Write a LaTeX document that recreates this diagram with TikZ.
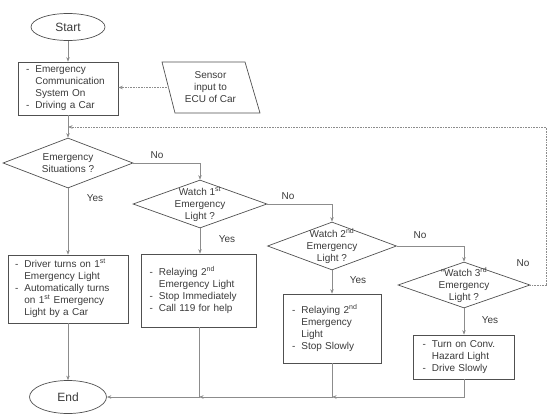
\documentclass[tikz,border=0pt]{standalone}
\usepackage{fontspec}
\setmainfont{Liberation Sans}
\usetikzlibrary{shapes.geometric,arrows.meta}
\definecolor{shapec}{HTML}{505050}
\definecolor{linec}{HTML}{8C8C8C}
\definecolor{txtc}{HTML}{3A3A3A}
\newcommand{\blist}[1]{\begin{tabular}{@{}l@{\hspace{6pt}}l@{}}#1\end{tabular}}
\begin{document}
\begin{tikzpicture}[x=1pt,y=-1pt,
  every node/.style={text=txtc, font=\fontsize{10}{12}\selectfont},
  shp/.style={draw=shapec, line width=0.7pt},
  term/.style={shp, ellipse, inner sep=0pt, font=\fontsize{12}{14}\selectfont},
  box/.style={shp, rectangle, inner ysep=0pt, align=left},
  dia/.style={shp, diamond, inner sep=0pt},
  dtext/.style={align=center, inner sep=0pt},
  lbl/.style={inner sep=0pt},
  conn/.style={draw=linec, line width=0.6pt, -{Stealth[length=4.5pt,width=3.5pt]}},
]
\useasboundingbox (0,0) rectangle (551,415);

% terminals
\node[term, minimum width=74pt, minimum height=27pt] (start) at (68,27) {Start};
\node[term, minimum width=77pt, minimum height=33pt] (end) at (68,397) {End};

% first box
\node[box, minimum width=100pt, text width=84pt, inner xsep=8pt, minimum height=53pt] (box1) at (68,88.5)
  {\blist{-&Emergency\\&Communication\\&System On\\-&Driving a Car}};

% sensor parallelogram
\draw[shp] (162,62) -- (245,62) -- (260,113) -- (175,113) -- cycle;
\node[align=center, inner sep=0pt] (sensor) at (210.5,87.5) {Sensor\\input to\\ECU of Car};
\coordinate (sensorL) at (168.5,87.5);

% diamonds
\node[dia, minimum width=130pt, minimum height=50pt] (d1) at (68,163) {};
\node[dtext] at (d1) {Emergency\\Situations ?};
\node[dia, minimum width=134pt, minimum height=48pt] (d2) at (200,204) {};
\node[dtext] at (d2) {Watch 1\textsuperscript{st}\\Emergency\\Light ?};
\node[dia, minimum width=129pt, minimum height=48pt] (d3) at (332,246) {};
\node[dtext] at (d3) {Watch 2\textsuperscript{nd}\\Emergency\\Light ?};
\node[dia, minimum width=132pt, minimum height=46pt] (d4) at (464,285) {};
\node[dtext] at (d4) {“Watch 3\textsuperscript{rd}\\Emergency\\Light ?};

% action boxes
\node[box, minimum width=120pt, text width=106pt, inner xsep=7pt, minimum height=68pt] (boxA) at (68,289)
  {\blist{-&Driver turns on 1\textsuperscript{st}\\&Emergency Light\\-&Automatically turns\\&on 1\textsuperscript{st} Emergency\\&Light by a Car}};
\node[box, minimum width=115pt, text width=99pt, inner xsep=8pt, minimum height=73pt] (boxB) at (199,290.5)
  {\blist{-&Relaying 2\textsuperscript{nd}\\&Emergency Light\\-&Stop Immediately\\-&Call 119 for help}};
\node[box, minimum width=98pt, text width=80pt, inner xsep=9pt, minimum height=69pt] (boxC) at (332,328.5)
  {\blist{-&Relaying 2\textsuperscript{nd}\\&Emergency\\&Light\\-&Stop Slowly}};
\node[box, minimum width=101pt, text width=83pt, inner xsep=9pt, minimum height=44pt] (boxD) at (464,357)
  {\blist{-&Turn on Conv.\\&Hazard Light\\-&Drive Slowly}};

% labels
\node[lbl] at (157,155) {No};
\node[lbl] at (95,198) {Yes};
\node[lbl] at (227,239) {Yes};
\node[lbl] at (288,196) {No};
\node[lbl] at (358,280) {Yes};
\node[lbl] at (420,235) {No};
\node[lbl] at (523,263) {No};
\node[lbl] at (490,320) {Yes};

% connectors
\coordinate (loopj) at (68,127);
\draw[conn] (start) -- (box1);
\draw[conn, densely dotted] (sensorL) -- (sensorL -| box1.east);
\draw[conn] (box1) -- (d1);
\draw[conn, densely dotted] (d4.east) -- ++(16,0) |- (loopj);
\draw[conn] (d1.east) -| (d2.north);
\draw[conn] (d2.east) -| (d3.north);
\draw[conn] (d3.east) -| (d4.north);
\draw[conn] (d1.south) -- (d1.south |- boxA.north);
\draw[conn] (d2.south) -- (d2.south |- boxB.north);
\draw[conn] (d3.south) -- (d3.south |- boxC.north);
\draw[conn] (d4.south) -- (d4.south |- boxD.north);
\draw[conn] (boxA) -- (end);
\draw[conn] (boxB.south) |- (end.east);
\coordinate (jB) at (boxB.south |- end.east);
\draw[conn] (boxC.south) |- (jB);
\coordinate (jC) at (boxC.south |- end.east);
\draw[conn] (boxD.south) |- (jC);
\end{tikzpicture}
\end{document}
